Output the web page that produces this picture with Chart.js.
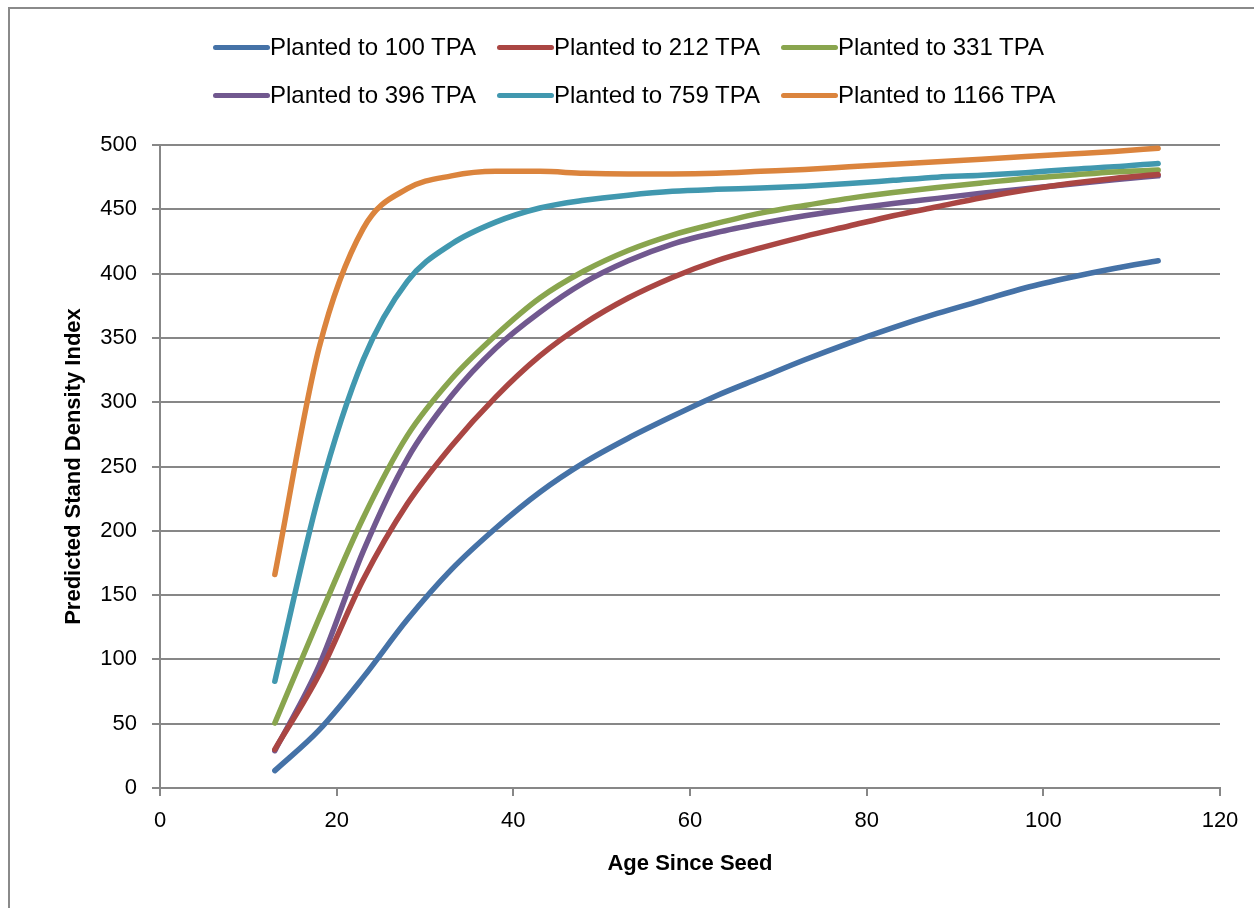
<!DOCTYPE html>
<html>
<head>
<meta charset="utf-8">
<script src="https://cdn.jsdelivr.net/npm/chart.js@4.4.0/dist/chart.umd.min.js"></script>
<style>
  body { margin: 0; width: 1254px; height: 908px; overflow: hidden; background: #fff; font-family: "Liberation Sans", Arial, sans-serif; }
  #frame { position: absolute; left: 8px; top: 7px; width: 1400px; height: 1100px; border: 2px solid #8a8a8a; box-sizing: border-box; }
  #wrap { position: absolute; left: 0; top: 0; width: 1254px; height: 908px; }
  #legend { position: absolute; left: 213px; top: 23px; display: grid; grid-template-columns: repeat(3, 284px); }
  .item { display: flex; align-items: center; height: 48px; font-size: 24px; color: #000; white-space: nowrap; }
  .swatch { width: 57px; height: 5px; border-radius: 3px; flex: none; }
</style>
</head>
<body>
<div id="frame"></div>
<div id="wrap"><canvas id="myChart" width="1254" height="908"></canvas></div>
<div id="legend"></div>
<script>
// age since seed (years)
const ages = [13, 18, 23, 28, 33, 38, 43, 48, 53, 58, 63, 68, 73, 78, 83, 88, 93, 98, 103, 108, 113];

// predicted SDI for each planting density
const tpa100 = [13.5, 45, 86, 131, 170, 202, 230, 253, 272, 289, 305, 319, 333, 346, 358, 369, 379, 389, 397, 404, 410];
const tpa212 = [30, 88, 162, 221, 266, 304, 336, 361, 381, 397, 410, 420, 429, 437, 445, 452, 459, 465, 470, 474, 477];
const tpa331 = [50.5, 132, 210, 274, 318, 352, 381, 402, 418, 430, 439, 447, 453, 458.5, 463, 467, 470.5, 474, 476.5, 479, 480.5];
const tpa396 = [29, 95, 184, 256, 305, 342, 370, 393, 410, 423, 432, 439, 445, 450, 454.5, 458.5, 462.5, 466, 469.5, 473, 476];
const tpa759 = [83, 228, 333, 394, 423, 440, 451, 457, 461, 464, 465.5, 466.5, 468, 470, 472.5, 475, 476.5, 478.5, 481, 483, 485.7];
const tpa1166 = [166, 342, 435, 466, 476, 479.5, 479.5, 478, 477.5, 477.5, 478, 479.5, 481, 483, 485, 487, 489, 491, 493, 495, 497.5];

const seriesNames = ["Planted to 100 TPA", "Planted to 212 TPA", "Planted to 331 TPA",
  "Planted to 396 TPA", "Planted to 759 TPA", "Planted to 1166 TPA"];
const seriesColors = ["#4572a7", "#aa4643", "#89a54e", "#71588f", "#4198af", "#db843d"];
const seriesValues = [tpa100, tpa212, tpa331, tpa396, tpa759, tpa1166];

const gridGrey = "#878787";

const datasets = seriesValues.map((vals, k) => ({
  label: seriesNames[k],
  data: ages.map((a, i) => ({ x: a, y: vals[i] })),
  borderColor: seriesColors[k],
  backgroundColor: seriesColors[k],
  borderWidth: 5.5,
  borderCapStyle: "round",
  borderJoinStyle: "round",
  pointRadius: 0,
  cubicInterpolationMode: "monotone",
  fill: false,
}));

const ctx = document.getElementById("myChart").getContext("2d");
const myChart = new Chart(ctx, {
  type: "line",
  data: { datasets: datasets },
  options: {
    responsive: false,
    maintainAspectRatio: false,
    animation: false,
    devicePixelRatio: 1,
    layout: { padding: { top: 145, right: 34, left: 0, bottom: 0 } },
    plugins: { legend: { display: false }, tooltip: { enabled: false } },
    scales: {
      x: {
        type: "linear",
        min: 0,
        max: 120,
        afterFit: (s) => { s.height = 120; },
        ticks: { stepSize: 20, color: "#000", padding: 12, font: { family: "Liberation Sans", size: 22 } },
        grid: { drawOnChartArea: false, drawTicks: true, tickLength: 8, color: gridGrey, lineWidth: 2 },
        border: { display: true, color: gridGrey, width: 2 },
        title: { display: true, text: "Age Since Seed", color: "#000",
          font: { family: "Liberation Sans", size: 22, weight: "bold" }, padding: { bottom: 31 } },
      },
      y: {
        min: 0,
        max: 500,
        afterFit: (s) => { s.width = 160; },
        ticks: { stepSize: 50, color: "#000", padding: 15, font: { family: "Liberation Sans", size: 22 } },
        grid: { color: gridGrey, lineWidth: 2, tickLength: 8 },
        border: { display: true, color: gridGrey, width: 2 },
        title: { display: true, text: "Predicted Stand Density Index", color: "#000",
          font: { family: "Liberation Sans", size: 22, weight: "bold" }, padding: { top: 61 } },
      },
    },
  },
});

// legend laid out in Excel style columns
const legendBox = document.getElementById("legend");
seriesNames.forEach((name, k) => {
  const item = document.createElement("div");
  item.className = "item";
  item.innerHTML = `<span class="swatch" style="background:${seriesColors[k]}"></span><span>${name}</span>`;
  legendBox.appendChild(item);
});
</script>
</body>
</html>
